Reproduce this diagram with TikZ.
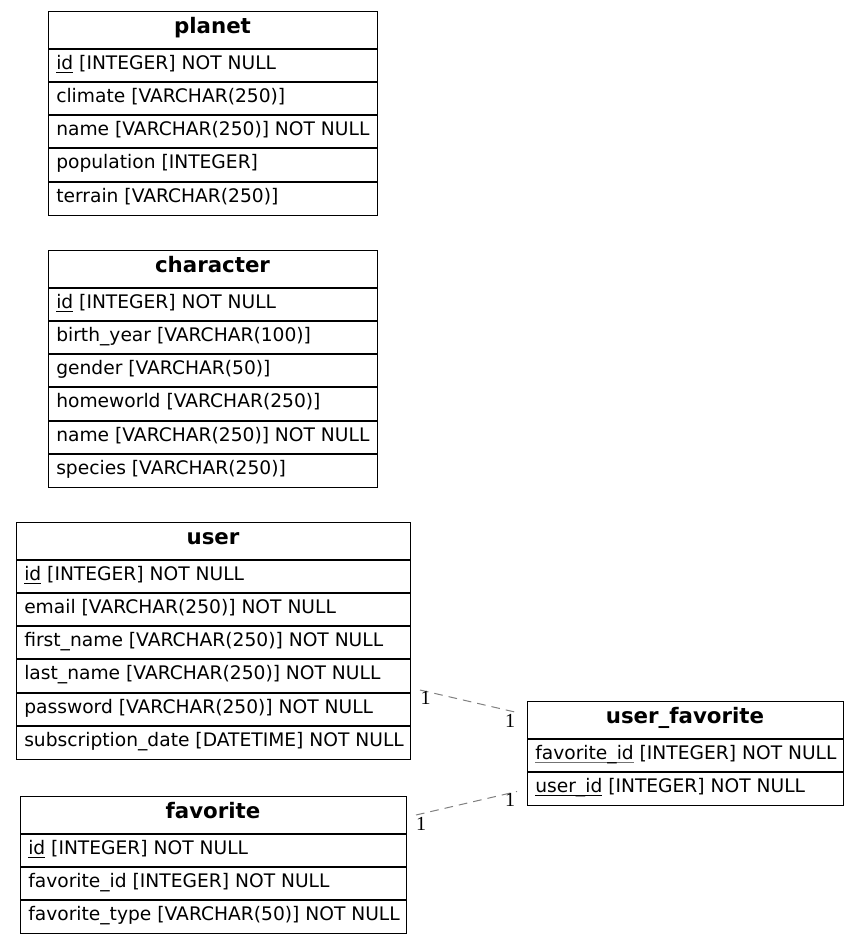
\documentclass[tikz,border=0pt]{standalone}
\usepackage{fontspec}
\setmainfont{DejaVu Sans}
\newfontfamily\lblfont{Liberation Serif}
\newcommand\keyul[1]{\setbox0\hbox{#1}\rlap{\vrule height -2.2pt depth 2.95pt width \wd0}\box0\relax}
\newcommand\keyulg[1]{\setbox0\hbox{#1}\rlap{\color{black!55}\vrule height -2.2pt depth 2.95pt width \wd0}\box0\relax}
\tikzset{
  rowtext/.style={anchor=base west, inner sep=0pt, font=\fontsize{14}{16}\selectfont},
  headtext/.style={anchor=base, inner sep=0pt, font=\fontsize{16}{19}\selectfont\bfseries},
  tblborder/.style={draw=black, line width=0.75pt, inner sep=0pt, outer sep=0pt},
  rowsep/.style={draw=black, line width=1.5pt},
  rel/.style={draw=black!50, line width=0.75pt, dash pattern=on 6.5pt off 4.5pt},
  card/.style={font=\lblfont\fontsize{15}{17}\selectfont, inner sep=0pt}
}
% #1 name, #2 left, #3 right, #4 top, #5 title, #6 rows, #7 number of rows
\newcommand\ertable[7]{%
  \pgfmathsetmacro\ertcx{(#2+#3)/2}
  \node[headtext] (#1-title) at (\ertcx,#4+22.5) {#5};
  \foreach \ertr [count=\erti from 0] in {#6} {
    \pgfmathsetmacro\ertrow{#4+37.5+\erti*33.3}
    \draw[rowsep] (#2,\ertrow) -- (#3,\ertrow);
    \node[rowtext] (#1-\erti) at (#2+8,\ertrow+20.5) {\ertr};
  }
  \node[tblborder, anchor=north west, minimum width={(#3-#2)*0.75pt},
        minimum height={(37.5+#7*33.3)*0.75pt}] (#1) at (#2,#4) {};
}
\begin{document}
\begin{tikzpicture}[x=0.75pt,y=-0.75pt]
\useasboundingbox (0,0) rectangle (859,943);
\ertable{planet}{48}{377}{11}{planet}{%
  {\keyul{id} [INTEGER] NOT NULL},
  {climate [VARCHAR(250)]},
  {name [VARCHAR(250)] NOT NULL},
  {population [INTEGER]},
  {terrain [VARCHAR(250)]}}{5}
\ertable{character}{48}{377}{250}{character}{%
  {\keyul{id} [INTEGER] NOT NULL},
  {birth\_year [VARCHAR(100)]},
  {gender [VARCHAR(50)]},
  {homeworld [VARCHAR(250)]},
  {name [VARCHAR(250)] NOT NULL},
  {species [VARCHAR(250)]}}{6}
\ertable{user}{16}{410}{522}{user}{%
  {\keyul{id} [INTEGER] NOT NULL},
  {email [VARCHAR(250)] NOT NULL},
  {first\_name [VARCHAR(250)] NOT NULL},
  {last\_name [VARCHAR(250)] NOT NULL},
  {password [VARCHAR(250)] NOT NULL},
  {subscription\_date [DATETIME] NOT NULL}}{6}
\ertable{favorite}{20}{406}{796}{favorite}{%
  {\keyul{id} [INTEGER] NOT NULL},
  {favorite\_id [INTEGER] NOT NULL},
  {favorite\_type [VARCHAR(50)] NOT NULL}}{3}
\ertable{userfav}{527}{843}{701}{user\_favorite}{%
  {\keyulg{favorite\_id} [INTEGER] NOT NULL},
  {\keyul{user\_id} [INTEGER] NOT NULL}}{2}
% relations
\coordinate (r1a) at (420,690);
\coordinate (r1b) at (517,712.5);
\coordinate (r2a) at (416,815);
\coordinate (r2b) at (517,791.5);
\draw[rel] (r1a) -- (r1b);
\draw[rel] (r2a) -- (r2b);
\node[card] (c1a) at (425.5,697.5) {1};
\node[card] (c1b) at (510,721) {1};
\node[card] (c2b) at (510,800) {1};
\node[card] (c2a) at (421,823.5) {1};
\end{tikzpicture}
\end{document}
